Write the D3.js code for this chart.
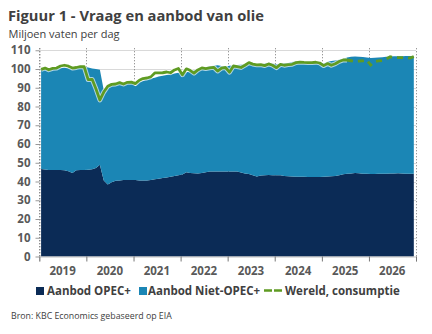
<!DOCTYPE html>
<html>
<head>
<meta charset="utf-8">
<script src="https://cdn.jsdelivr.net/npm/d3@7"></script>
<style>
  body { margin: 0; background: #fff; }
  svg text { font-family: "Open Sans", "Noto Sans", sans-serif; }
</style>
</head>
<body>
<div id="chart"></div>
<script>
// Monthly values, Jan 2019 - Dec 2026 (million barrels per day)
const years = ["2019", "2020", "2021", "2022", "2023", "2024", "2025", "2026"];
const yTicks = [0, 10, 20, 30, 40, 50, 60, 70, 80, 90, 100, 110];

const opecPlus = [
  46.7, 46.4, 46.1, 46.1, 46.2, 46.1, 46.0, 45.5, 44.6, 46.0, 46.1, 46.2,
  46.3, 46.6, 47.2, 49.0, 40.5, 38.4, 39.6, 40.4, 40.6, 40.8, 40.8, 40.8,
  40.8, 40.6, 40.6, 40.6, 40.8, 41.2, 41.5, 41.9, 42.2, 42.6, 43.0, 43.4,
  43.7, 44.9, 44.6, 44.4, 44.3, 44.6, 45.0, 45.3, 45.4, 45.4, 45.4, 45.4,
  45.4, 45.4, 45.3, 44.8, 44.3, 44.0, 43.4, 42.7, 43.2, 43.4, 43.5, 43.4,
  43.3, 43.3, 43.0, 42.8, 42.7, 42.6, 42.6, 42.5, 42.4, 42.4, 42.4, 42.4,
  42.5, 42.7, 42.8, 43.0, 43.3, 43.9, 44.1, 44.3, 44.5, 44.4, 44.2, 44.1,
  44.0, 44.0, 44.1, 44.2, 44.2, 44.3, 44.3, 44.4, 44.3, 44.2, 44.2, 44.2
];

const nonOpecPlus = [
  52.8, 53.4, 53.5, 53.9, 54.0, 54.5, 54.8, 54.9, 55.0, 54.5, 54.8, 55.0,
  54.5, 53.7, 52.8, 50.6, 48.2, 51.9, 51.6, 51.3, 51.4, 51.7, 51.9, 52.0,
  50.0, 52.4, 53.2, 53.8, 54.1, 54.2, 54.5, 54.5, 54.6, 54.6, 54.6, 54.6,
  54.2, 53.4, 54.1, 54.9, 55.7, 56.0, 56.0, 56.2, 56.4, 56.6, 56.2, 55.8,
  56.3, 56.5, 56.8, 57.5, 58.2, 58.4, 58.9, 59.7, 59.4, 59.5, 59.8, 59.6,
  59.2, 59.6, 60.1, 60.4, 61.1, 61.5, 61.5, 61.3, 61.2, 61.3, 61.4, 61.4,
  60.5, 61.2, 61.5, 61.5, 61.6, 61.6, 62.1, 62.2, 62.2, 62.1, 62.2, 62.1,
  61.9, 62.0, 62.0, 62.1, 62.4, 62.4, 62.5, 62.4, 62.5, 62.7, 62.7, 62.6
];

const consumption = [
  99.8, 100.5, 99.6, 100.3, 100.5, 101.6, 102.0, 101.5, 100.5, 100.8, 101.3, 101.2,
  94.3, 94.5, 89.5, 83.5, 87.7, 90.8, 91.8, 92.0, 92.7, 92.0, 92.9, 93.0,
  92.2, 94.0, 94.9, 95.2, 95.8, 97.9, 97.9, 98.0, 98.4, 98.0, 99.5, 100.3,
  96.9, 100.1, 99.3, 97.8, 99.5, 100.6, 100.2, 100.6, 100.9, 98.9, 100.5, 100.8,
  98.3, 101.6, 101.3, 100.8, 102.0, 103.4, 102.6, 102.2, 102.3, 101.8, 102.7, 102.0,
  100.7, 102.5, 102.0, 102.3, 102.5, 103.4, 103.7, 103.5, 103.4, 103.4, 103.6, 103.2,
  101.8, 102.9, 102.0, 102.8, 104.0, 104.8, 104.8, 104.4, 104.0, 104.2, 104.4, 104.8,
  102.1, 103.9, 104.3, 104.5, 105.3, 106.5, 106.2, 106.1, 106.1, 106.0, 105.8, 106.6
];

// first month drawn as a forecast (dashed)
const forecastStart = 78;

const colors = { opec: "#0b2b56", nonOpec: "#1b86b5", cons: "#5f9b22", text: "#404040", axis: "#595959" };

const width = 432, height = 334;
const svg = d3.select("#chart").append("svg")
  .attr("width", width)
  .attr("height", height);

const months = d3.range(opecPlus.length).map(i => new Date(Date.UTC(2019, i, 15)));
const rows = months.map((d, i) => ({ date: d, opec: opecPlus[i], nonOpec: nonOpecPlus[i], cons: consumption[i] }));

const x = d3.scaleUtc()
  .domain([new Date(Date.UTC(2019, 0, 1)), new Date(Date.UTC(2027, 0, 1))])
  .range([39.3, 416]);
const y = d3.scaleLinear().domain([0, 110]).range([256.5, 50.25]);

// Title block
svg.append("text").attr("x", 8).attr("y", 20.5)
  .attr("font-size", 14.7).attr("font-weight", "bold").attr("fill", colors.text)
  .text("Figuur 1 - Vraag en aanbod van olie");
svg.append("text").attr("x", 8.5).attr("y", 37.5)
  .attr("font-size", 11).attr("fill", colors.text)
  .text("Miljoen vaten per dag");

// Horizontal gridlines
svg.append("g").selectAll("line").data(yTicks.filter(t => t > 0)).join("line")
  .attr("x1", x.range()[0]).attr("x2", x.range()[1])
  .attr("y1", d => Math.round(y(d)) + 0.5).attr("y2", d => Math.round(y(d)) + 0.5)
  .attr("stroke", "#d9d9d9").attr("stroke-width", 1);

// Year separators (dotted)
const yearEdges = d3.range(2019, 2028).map(yr => new Date(Date.UTC(yr, 0, 1)));
svg.append("g").selectAll("line").data(yearEdges).join("line")
  .attr("x1", d => Math.round(x(d)) + 0.5).attr("x2", d => Math.round(x(d)) + 0.5)
  .attr("y1", y(110) - 2).attr("y2", y(0))
  .attr("stroke", "#777").attr("stroke-width", 1).attr("stroke-dasharray", "1,2");

// Stacked areas
const stack = d3.stack().keys(["opec", "nonOpec"]);
const series = stack(rows);
const area = d3.area()
  .x(d => x(d.data.date))
  .y0(d => y(d[0]))
  .y1(d => y(d[1]));

svg.append("g").selectAll("path").data(series).join("path")
  .attr("d", area)
  .attr("fill", d => d.key === "opec" ? colors.opec : colors.nonOpec);

// Consumption line: solid history, dashed forecast
const line = d3.line().x(d => x(d.date)).y(d => y(d.cons));
const hist = rows.slice(0, forecastStart + 1);
const fcst = rows.slice(forecastStart);

svg.append("path").datum(hist).attr("d", line)
  .attr("fill", "none").attr("stroke", "#fff").attr("stroke-opacity", 0.65)
  .attr("stroke-width", 4.8).attr("stroke-linejoin", "round");
svg.append("path").datum(hist).attr("d", line)
  .attr("fill", "none").attr("stroke", colors.cons)
  .attr("stroke-width", 2.8).attr("stroke-linejoin", "round");
svg.append("path").datum(fcst).attr("d", line)
  .attr("fill", "none").attr("stroke", colors.cons)
  .attr("stroke-width", 2.8).attr("stroke-dasharray", "6,5");

// Y axis
const yAxis = svg.append("g").attr("transform", "translate(39.5,0)")
  .call(d3.axisLeft(y).tickValues(yTicks).tickSize(4).tickPadding(5));
yAxis.select(".domain").attr("stroke", "#777").attr("stroke-dasharray", "1,2")
  .attr("d", `M0.5,${y(110) - 2}V${y(0)}`);
yAxis.selectAll(".tick line").attr("stroke", "#999");
yAxis.selectAll(".tick text")
  .attr("font-size", 11.5).attr("font-weight", "bold").attr("fill", colors.axis)
  .attr("font-family", "'Open Sans', sans-serif");

// X axis: ticks on year edges, labels centred within each year
const xAxis = svg.append("g").attr("transform", `translate(0,${y(0)})`)
  .call(d3.axisBottom(x).tickValues(yearEdges).tickSize(5).tickFormat(""));
xAxis.select(".domain").attr("stroke", "#bfbfbf");
xAxis.selectAll(".tick line").attr("stroke", "#777");

svg.append("g").selectAll("text").data(years).join("text")
  .attr("x", d => x(new Date(Date.UTC(+d, 6, 1))))
  .attr("y", 275)
  .attr("text-anchor", "middle")
  .attr("font-size", 11.5).attr("font-weight", "bold").attr("fill", colors.axis)
  .text(d => d);

// Legend
const legend = svg.append("g").attr("font-size", 11.5).attr("font-weight", "bold").attr("fill", colors.text);
legend.append("rect").attr("x", 36).attr("y", 287).attr("width", 8).attr("height", 8).attr("fill", colors.opec);
legend.append("text").attr("x", 47).attr("y", 294.5).text("Aanbod OPEC+");
legend.append("rect").attr("x", 139).attr("y", 287).attr("width", 8).attr("height", 8).attr("fill", colors.nonOpec);
legend.append("text").attr("x", 148).attr("y", 294.5).text("Aanbod Niet-OPEC+");
legend.append("line").attr("x1", 264).attr("x2", 282).attr("y1", 290.5).attr("y2", 290.5)
  .attr("stroke", colors.cons).attr("stroke-width", 2.6).attr("stroke-dasharray", "8,2");
legend.append("text").attr("x", 285).attr("y", 294.5).text("Wereld, consumptie");

// Source
svg.append("text").attr("x", 11).attr("y", 318.5)
  .attr("font-size", 8.8).attr("fill", colors.text)
  .text("Bron: KBC Economics gebaseerd op EIA");
</script>
</body>
</html>
